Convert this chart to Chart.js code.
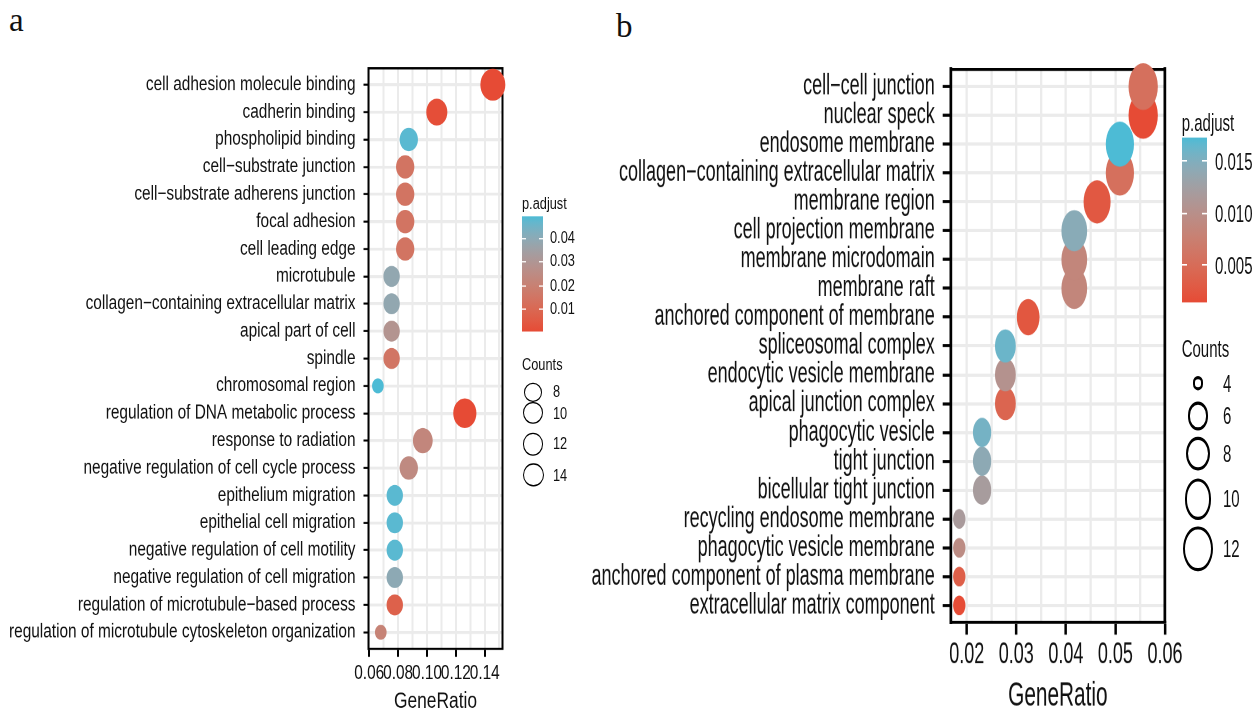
<!DOCTYPE html>
<html><head><meta charset="utf-8">
<script src="https://cdn.jsdelivr.net/npm/chart.js@4.4.1/dist/chart.umd.min.js"></script>
<style>
html,body{margin:0;padding:0;background:#fff;width:1255px;height:708px;overflow:hidden;font-family:"Liberation Sans",Arial,sans-serif;}
.wrap{position:absolute;top:0;transform-origin:0 0;}
.wrap canvas{position:absolute;left:0;top:0;}
.lt{position:absolute;white-space:nowrap;color:#111;}
.panel{position:absolute;font-family:"Liberation Serif","DejaVu Serif",serif;font-size:33px;line-height:33px;color:#111;}
</style></head><body>
<div class="panel" style="left:9px;top:4px">a</div>
<div class="panel" style="left:616px;top:10px">b</div>
<div id="wa" class="wrap" style="left:0px;width:620px;height:570px;transform:scaleY(1.28)"><canvas id="ca"></canvas></div>
<div id="wb" class="wrap" style="left:580px;width:675px;height:450px;transform:scaleY(1.6)"><canvas id="cb"></canvas></div>
<script>
// ---------------- Panel a data ----------------
const catsA = ["cell adhesion molecule binding","cadherin binding","phospholipid binding","cell\u2212substrate junction","cell\u2212substrate adherens junction","focal adhesion","cell leading edge","microtubule","collagen\u2212containing extracellular matrix","apical part of cell","spindle","chromosomal region","regulation of DNA metabolic process","response to radiation","negative regulation of cell cycle process","epithelium migration","epithelial cell migration","negative regulation of cell motility","negative regulation of cell migration","regulation of microtubule\u2212based process","regulation of microtubule cytoskeleton organization"];
const ratioA = [0.1456,0.1068,0.0874,0.0849,0.0849,0.0849,0.0849,0.0755,0.0755,0.0755,0.0755,0.0660,0.1262,0.0971,0.0874,0.0777,0.0777,0.0777,0.0777,0.0777,0.0680];
const countA = [15,11,9,9,9,9,9,8,8,8,8,7,13,10,9,8,8,8,8,8,7];
const padjA  = [0.0002,0.0010,0.0480,0.0145,0.0145,0.0145,0.0145,0.0385,0.0385,0.0287,0.0150,0.0493,0.0003,0.0225,0.0240,0.0480,0.0480,0.0480,0.0395,0.0071,0.0208];
const gridA = [0.06,0.07,0.08,0.09,0.10,0.11,0.12,0.13,0.14,0.15];
const xMajorA = [0.06,0.08,0.10,0.12,0.14];
const xLabelA = ["0.06","0.08","0.10","0.12","0.14"];
const cbTickA = [0.01,0.02,0.03,0.04];
const cbLabelA = ["0.01","0.02","0.03","0.04"];
const legCountA = [8,10,12,14];

// ---------------- Panel b data ----------------
const catsB = ["cell\u2212cell junction","nuclear speck","endosome membrane","collagen\u2212containing extracellular matrix","membrane region","cell projection membrane","membrane microdomain","membrane raft","anchored component of membrane","spliceosomal complex","endocytic vesicle membrane","apical junction complex","phagocytic vesicle","tight junction","bicellular tight junction","recycling endosome membrane","phagocytic vesicle membrane","anchored component of plasma membrane","extracellular matrix component"];
const ratioB = [0.0556,0.0556,0.0509,0.0509,0.0463,0.0417,0.0417,0.0417,0.0324,0.0278,0.0278,0.0278,0.0231,0.0231,0.0231,0.0185,0.0185,0.0185,0.0185];
const countB = [12,12,11,11,10,9,9,9,7,6,6,6,5,5,5,4,4,4,4];
const padjB  = [0.0055,0.0015,0.0172,0.0055,0.0028,0.0144,0.0086,0.0086,0.0026,0.0161,0.0104,0.0042,0.0156,0.0141,0.0119,0.0117,0.0094,0.0035,0.0016];
const gridB = [0.02,0.025,0.03,0.035,0.04,0.045,0.05,0.055,0.06];
const xMajorB = [0.02,0.03,0.04,0.05,0.06];
const xLabelB = ["0.02","0.03","0.04","0.05","0.06"];
const cbTickB = [0.005,0.010,0.015];
const cbLabelB = ["0.005","0.010","0.015"];
const legCountB = [4,6,8,10,12];

// ---------------- colour scale (Lab interpolation, like ggplot) ----------------
function hex2rgb(h){return [1,3,5].map(i=>parseInt(h.substr(i,2),16));}
function s2l(c){c/=255;return c<=0.04045?c/12.92:Math.pow((c+0.055)/1.055,2.4);}
function l2s(c){c=c<=0.0031308?12.92*c:1.055*Math.pow(c,1/2.4)-0.055;return Math.max(0,Math.min(255,Math.round(c*255)));}
function rgb2lab(rgb){const r=s2l(rgb[0]),g=s2l(rgb[1]),b=s2l(rgb[2]);
  const X=(0.4124*r+0.3576*g+0.1805*b)/0.95047,Y=0.2126*r+0.7152*g+0.0722*b,Z=(0.0193*r+0.1192*g+0.9505*b)/1.08883;
  const f=t=>t>0.008856?Math.cbrt(t):7.787*t+16/116;
  const fx=f(X),fy=f(Y),fz=f(Z);return [116*fy-16,500*(fx-fy),200*(fy-fz)];}
function lab2rgb(lab){const fy=(lab[0]+16)/116,fx=fy+lab[1]/500,fz=fy-lab[2]/200;
  const fi=t=>t>0.206893?t*t*t:(t-16/116)/7.787;
  const X=fi(fx)*0.95047,Y=fi(fy),Z=fi(fz)*1.08883;
  const r=3.2406*X-1.5372*Y-0.4986*Z,g=-0.9689*X+1.8758*Y+0.0415*Z,b=0.0557*X-0.2040*Y+1.0570*Z;
  return 'rgb('+l2s(r)+','+l2s(g)+','+l2s(b)+')';}
const LOW=rgb2lab(hex2rgb('#E64B35')),HIGH=rgb2lab(hex2rgb('#4DBBD5'));
function colorAt(t){t=Math.max(0,Math.min(1,t));return lab2rgb(LOW.map((v,i)=>v+(HIGH[i]-v)*t));}

const FONT="'Liberation Sans', Arial, Helvetica, sans-serif";

function noPad(sc){sc.paddingLeft=0;sc.paddingRight=0;sc.paddingTop=0;sc.paddingBottom=0;}

function makeChart(c){
  const canvas=document.getElementById(c.id);
  canvas.width=c.W; canvas.height=c.H;
  const pmin=Math.min(...c.padj),pmax=Math.max(...c.padj);
  const cmin=Math.min(...c.count),cmax=Math.max(...c.count);
  const diam=n=>c.k0+c.k1*(1+5*Math.sqrt((n-cmin)/(cmax-cmin)));
  const order=c.cats.map((_,i)=>i).reverse();
  const data=order.map(i=>({x:c.ratio[i],y:i}));
  const colors=order.map(i=>colorAt((c.padj[i]-pmin)/(pmax-pmin)));
  const radii=order.map(i=>diam(c.count[i])/2);
  const top=c.plotTop/c.s,bottom=c.plotBot/c.s;
  const majorIdx=v=>c.majors.findIndex(m=>Math.abs(m-v)<1e-9);
  const font={family:FONT,size:c.fs};
  new Chart(canvas,{
    type:'scatter',
    data:{datasets:[{data,xAxisID:'x',yAxisID:'y',pointRadius:radii,pointHoverRadius:radii,
      pointBackgroundColor:colors,pointBorderWidth:0,pointHoverBorderWidth:0,clip:false}]},
    options:{
      responsive:false,animation:false,devicePixelRatio:2,events:[],
      layout:{padding:{top:top,right:c.W-c.plotR,left:0,bottom:0}},
      plugins:{legend:{display:false},tooltip:{enabled:false}},
      scales:{
        x:{type:'linear',position:'bottom',min:c.xMin,max:c.xMax,
          afterBuildTicks:sc=>{sc.ticks=c.grid.map(v=>({value:v}));},
          afterFit:sc=>{sc.height=c.H-bottom;noPad(sc);},
          ticks:{autoSkip:false,maxRotation:0,minRotation:0,padding:c.xPad,color:'#111',font,
            callback:v=>{const k=majorIdx(v);return k<0?'':c.labels[k];}},
          grid:{color:'#EBEBEB',lineWidth:c.vgw,tickLength:c.xTick,tickWidth:c.xtw,
            tickColor:ctx=>majorIdx(ctx.tick.value)<0?'rgba(0,0,0,0)':'#000'},
          border:{display:true,color:'#000',width:c.xbw},
          title:{display:true,text:'GeneRatio',color:'#111',font:{family:FONT,size:c.tfs},padding:{top:0,bottom:c.tPad}}},
        y:{type:'linear',position:'left',min:-0.6,max:c.cats.length-0.4,reverse:true,
          afterBuildTicks:sc=>{sc.ticks=c.cats.map((_,i)=>({value:i}));},
          afterFit:sc=>{sc.width=c.plotL;noPad(sc);},
          ticks:{autoSkip:false,padding:c.yPad,color:'#111',font,callback:v=>c.cats[v]},
          grid:{color:'#EBEBEB',lineWidth:c.hgw,tickLength:c.yTick,tickWidth:c.ytw,tickColor:'#000'},
          border:{display:true,color:'#000',width:c.ybw}},
        x2:{type:'linear',position:'top',display:true,ticks:{display:false},grid:{display:false,drawTicks:false},
          border:{display:true,color:'#000',width:c.xbw},afterFit:sc=>{sc.height=0;noPad(sc);}},
        y2:{type:'linear',position:'right',display:true,ticks:{display:false},grid:{display:false,drawTicks:false},
          border:{display:true,color:'#000',width:c.ybw},afterFit:sc=>{sc.width=0;noPad(sc);}}
      }
    }
  });
  // ---- legends (HTML, inside the same stretched wrapper) ----
  const wrap=document.getElementById(c.wrap);
  const L=c.leg, s=c.s, ox=c.left;
  function txt(t,x,yc,fs){const d=document.createElement('div');d.className='lt';d.textContent=t;
    d.style.fontSize=fs+'px';d.style.lineHeight=fs+'px';d.style.fontFamily=FONT;
    d.style.left=(x-ox)+'px';d.style.top=(yc/s-fs/2)+'px';wrap.appendChild(d);}
  txt('p.adjust',L.titleX,L.pTitleY,L.fs);
  const stops=[];for(let i=0;i<=20;i++){stops.push(colorAt(1-i/20)+' '+(i*5)+'%');}
  const bar=document.createElement('div');
  bar.style.cssText='position:absolute;left:'+(L.barX-ox)+'px;top:'+(L.barY1/s)+'px;width:'+L.barW+'px;height:'+((L.barY2-L.barY1)/s)+'px;background:linear-gradient(to bottom,'+stops.join(',')+');';
  wrap.appendChild(bar);
  c.cbTicks.forEach((v,i)=>{
    const yy=L.barY2-(v-pmin)/(pmax-pmin)*(L.barY2-L.barY1);
    [0,L.barW-L.barW/5].forEach(dx=>{const m=document.createElement('div');
      m.style.cssText='position:absolute;background:#fff;left:'+(L.barX-ox+dx)+'px;top:'+(yy/s-0.5/s)+'px;width:'+(L.barW/5)+'px;height:'+(1/s)+'px;';
      wrap.appendChild(m);});
    txt(c.cbLabels[i],L.barLabelX,yy,L.fs);
  });
  txt('Counts',L.titleX,L.cTitleY,L.fs);
  c.legCounts.forEach((n,i)=>{
    const w=L.cw[i],h=L.ch[i];
    const e=document.createElement('div');
    e.style.cssText='position:absolute;box-sizing:border-box;border:'+L.sw+'px solid #000;border-radius:50%;left:'+(L.cx-ox-w/2)+'px;top:'+((L.cy[i]-h/2)/s)+'px;width:'+w+'px;height:'+(h/s)+'px;';
    wrap.appendChild(e);
    txt(String(n),L.labX,L.ly[i],L.fs);
  });
}

makeChart({id:'ca',wrap:'wa',left:0,W:515,H:570,s:1.28,
  cats:catsA,ratio:ratioA,count:countA,padj:padjA,grid:gridA,majors:xMajorA,labels:xLabelA,
  cbTicks:cbTickA,cbLabels:cbLabelA,legCounts:legCountA,
  k0:9.0,k1:2.66,plotTop:68.3,plotBot:648.7,plotL:368.5,plotR:507.7,xMin:0.0595,xMax:0.1523,
  fs:15.4,tfs:17.4,xPad:4.0,tPad:11.5,xTick:6.3,yTick:5,yPad:8,
  vgw:2,hgw:2.2,xtw:2,ytw:1.6,xbw:1.7,ybw:2,
  leg:{fs:12.8,titleX:522,pTitleY:204,barX:521.7,barW:21.6,barY1:216.7,barY2:331.7,barLabelX:550,
    cTitleY:365,cx:533,cy:[392,413,444,475],cw:[17.7,19.5,20.5,21],ch:[19,22,23,24],sw:1.8,labX:553,ly:[392,414,445,477]}
});

makeChart({id:'cb',wrap:'wb',left:580,W:625,H:450,s:1.6,
  cats:catsB,ratio:ratioB,count:countB,padj:padjB,grid:gridB,majors:xMajorB,labels:xLabelB,
  cbTicks:cbTickB,cbLabels:cbLabelB,legCounts:legCountB,
  k0:8.9,k1:3.4,plotTop:69.3,plotBot:622.7,plotL:370.7,plotR:585,xMin:0.01677,xMax:0.06,
  fs:18,tfs:20.8,xPad:2.2,tPad:2.5,xTick:7.5,yTick:8,yPad:8,
  vgw:2.3,hgw:2,xtw:2.5,ytw:1.9,xbw:1.9,ybw:2.7,
  leg:{fs:15,titleX:1181.7,pTitleY:123,barX:1181.7,barW:25,barY1:138.3,barY2:301.7,barLabelX:1215,
    cTitleY:347.5,cx:1198,cy:[383,416,453,499.5,549],cw:[10.7,20.7,24,26.7,29.3],ch:[13.3,28.3,34,41,45],sw:2.4,labX:1223,ly:[383,415,453,498,548]}
});
</script>
</body></html>
